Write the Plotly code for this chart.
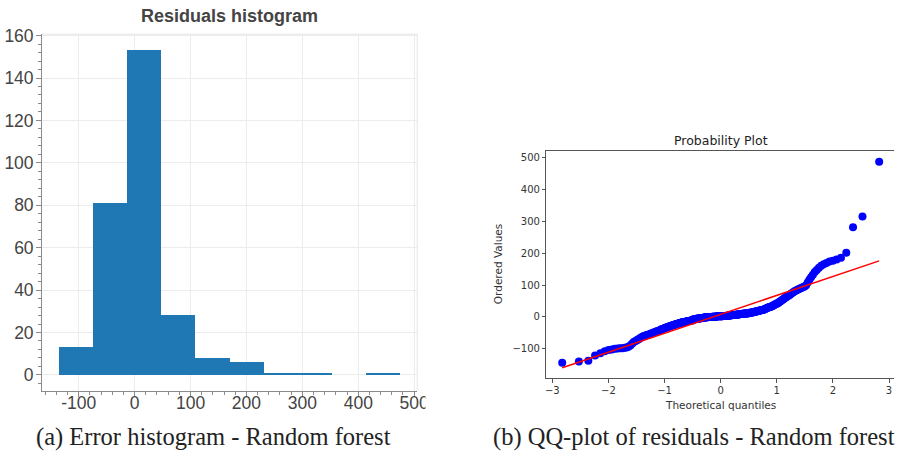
import numpy as np
import plotly.graph_objects as go
from statistics import NormalDist

# ---------------- Residual histogram (random forest) ----------------
bin_edges = [-135, -74, -13, 48, 109, 170, 231, 292, 353, 414, 475]
bin_counts = [13, 81, 153, 28, 8, 6, 1, 1, 0, 1]
hist_x_ticks = [-100, 0, 100, 200, 300, 400, 500]
hist_x_labels = ["-100", "0", "100", "200", "300", "400", "500"]
hist_y_ticks = [0, 20, 40, 60, 80, 100, 120, 140, 160]
hist_y_labels = ["0", "20", "40", "60", "80", "100", "120", "140", "160"]

# ---------------- Ordered residuals for the probability plot ----------------
ordered_residuals = [
    -144, -140, -138, -121, -114, -108, -104, -102, -100, -99,
    -98, -98, -97, -96, -94, -90, -84, -79, -76, -73,
    -71, -68, -65, -62, -61, -59, -58, -57, -56, -55, -53,
    -52, -51, -50, -48, -47, -46, -45, -44, -43, -42, -40, -39, -38, -37, -36, -35,
    -34, -33, -32, -31, -31, -30, -29, -28, -28, -27, -26, -25, -25, -24, -23, -22,
    -22, -21, -21, -20,
    -19, -19, -18, -18, -17, -17, -16, -16, -16, -15, -15, -14, -14, -14, -13, -13,
    -13, -12, -12, -12, -11, -11, -11,
    -8, -8, -8, -7, -7, -7, -6, -6, -6, -6, -5, -5, -5, -4, -4, -4, -4, -3, -3, -3,
    -3, -2, -2, -2, -2, -1, -1, -1,
    -1, -1, 0, 0, 0, 0, 0, 0, 0, 0, 1, 1, 1, 1, 1, 1, 1, 1, 1, 2, 2, 2, 2, 2, 2, 2,
    2, 2, 2,
    2, 2, 2, 3, 3, 3, 3, 3, 3, 3, 4, 4, 4, 4, 4, 4, 4, 5, 5, 5, 5, 5, 5, 6, 6, 6, 6,
    6, 6,
    7, 7, 7, 7, 8, 8, 8, 8, 9, 9, 9, 9, 9, 10, 10, 10, 10, 10, 11, 11, 11, 11, 11,
    12, 12, 12, 12,
    13, 13, 13, 14, 14, 14, 15, 15, 16, 16, 16, 17, 17, 18, 18, 19, 19, 20, 20, 21,
    21, 22, 22, 23,
    23, 24, 25, 26, 27, 28, 29, 30, 31, 31, 32, 33, 34, 35, 36, 38, 39, 40, 42,
    42, 44, 46, 48, 50, 52, 54, 56, 58, 60, 62, 64, 66, 68, 70, 73,
    75, 78, 80, 82, 84, 86, 88, 90, 92, 94, 96,
    100, 108, 117, 125, 133, 141, 148, 155, 161, 166, 170, 174, 177, 181, 186, 202,
    282, 316, 488,
]
qq_x_ticks = [-3, -2, -1, 0, 1, 2, 3]
qq_x_labels = ["\u22123", "\u22122", "\u22121", "0", "1", "2", "3"]
qq_y_ticks = [-100, 0, 100, 200, 300, 400, 500]
qq_y_labels = ["\u2212100", "0", "100", "200", "300", "400", "500"]

# Filliben order-statistic medians -> theoretical normal quantiles
osr = np.array(sorted(ordered_residuals), dtype=float)
n = len(osr)
med = np.array([(i - 0.3175) / (n + 0.365) for i in range(1, n + 1)])
med[-1] = 0.5 ** (1.0 / n)
med[0] = 1.0 - med[-1]
osm = np.array([NormalDist().inv_cdf(p) for p in med])
slope, intercept = np.polyfit(osm, osr, 1)
fit_line = slope * osm + intercept

W, H = 906, 455


def fx(px):
    return px / W


def fy(py):
    return 1 - py / H


fig = go.Figure()

# histogram bars
edges = np.array(bin_edges, dtype=float)
centers = (edges[:-1] + edges[1:]) / 2
widths = np.diff(edges)
fig.add_trace(go.Bar(
    x=centers, y=bin_counts, width=widths,
    marker=dict(color="#1f77b4", line=dict(width=0)),
    xaxis="x", yaxis="y", showlegend=False,
))

# QQ plot: ordered values and least-squares line
fig.add_trace(go.Scatter(
    x=osm, y=osr, mode="markers",
    marker=dict(color="#0000ff", size=8, line=dict(width=0)),
    xaxis="x2", yaxis="y2", showlegend=False,
))
fig.add_trace(go.Scatter(
    x=osm, y=fit_line, mode="lines",
    line=dict(color="#ff0000", width=1.5),
    xaxis="x2", yaxis="y2", showlegend=False,
))

# histogram axes ranges with 10% padding
span = edges[-1] - edges[0]
hx_range = [edges[0] - span * 0.05, edges[-1] + span * 0.05]
cmax = max(bin_counts)
hy_range = [-cmax * 0.05, cmax * 1.05]

# QQ axes ranges (5% margins)
lo = min(osr.min(), fit_line.min())
hi = max(osr.max(), fit_line.max())
qy_range = [lo - 0.05 * (hi - lo), hi + 0.05 * (hi - lo)]
xm = osm.max() - osm.min()
qx_range = [osm.min() - 0.05 * xm, osm.max() + 0.05 * xm - 0.018]

hist_axis_color = "#8a8a8a"
hist_font = dict(family="Liberation Sans, Arial, sans-serif", size=17.5, color="#444444")
qq_axis_color = "#555555"
qq_font = dict(family="DejaVu Sans, sans-serif", size=10, color="#333333")

fig.update_layout(
    width=W, height=H,
    margin=dict(l=0, r=0, t=0, b=0),
    paper_bgcolor="white", plot_bgcolor="white",
    bargap=0,
    xaxis=dict(
        domain=[fx(41.7), fx(422.3)], range=hx_range, anchor="y",
        tickmode="array", tickvals=hist_x_ticks, ticktext=hist_x_labels,
        ticks="outside", ticklen=5, tickcolor=hist_axis_color,
        ticklabelstandoff=-9,
        showline=True, linecolor=hist_axis_color, linewidth=1,
        showgrid=True, gridcolor="#ececec", gridwidth=1, zeroline=False,
        minor=dict(tickmode="linear", tick0=0, dtick=20, ticks="outside",
                   ticklen=3, tickcolor=hist_axis_color, showgrid=False),
        tickfont=hist_font,
    ),
    yaxis=dict(
        domain=[fy(390), fy(26.7)], range=hy_range, anchor="x",
        tickmode="array", tickvals=hist_y_ticks, ticktext=hist_y_labels,
        ticks="outside", ticklen=5, tickcolor=hist_axis_color,
        ticklabelstandoff=-1,
        showline=True, linecolor=hist_axis_color, linewidth=1,
        showgrid=True, gridcolor="#ececec", gridwidth=1, zeroline=False,
        minor=dict(tickmode="linear", tick0=0, dtick=4, ticks="outside",
                   ticklen=3, tickcolor=hist_axis_color, showgrid=False),
        tickfont=hist_font,
    ),
    xaxis2=dict(
        domain=[fx(553.3), 1.0], range=qx_range, anchor="y2",
        tickmode="array", tickvals=qq_x_ticks, ticktext=qq_x_labels,
        ticks="outside", ticklen=3.5, tickcolor=qq_axis_color,
        ticklabelstandoff=-1,
        showline=True, linecolor=qq_axis_color, linewidth=1, mirror=True,
        showgrid=False, zeroline=False, tickfont=qq_font,
    ),
    yaxis2=dict(
        domain=[fy(376.7), fy(146)], range=qy_range, anchor="x2",
        tickmode="array", tickvals=qq_y_ticks, ticktext=qq_y_labels,
        ticks="outside", ticklen=3.5, tickcolor=qq_axis_color,
        ticklabelstandoff=0,
        showline=True, linecolor=qq_axis_color, linewidth=1,
        showgrid=False, zeroline=False, tickfont=qq_font,
    ),
    shapes=[
        # light outline of the histogram frame (top and right)
        dict(type="line", xref="paper", yref="paper",
             x0=fx(41.7), x1=fx(422.3), y0=fy(26.7), y1=fy(26.7),
             line=dict(color="#e6e6e6", width=1), layer="below"),
        dict(type="line", xref="paper", yref="paper",
             x0=fx(422.3), x1=fx(422.3), y0=fy(390), y1=fy(26.7),
             line=dict(color="#e6e6e6", width=1), layer="below"),
    ],
    annotations=[
        # the histogram panel ends at x=430: blank strip to its right
        dict(text=" ", xref="paper", yref="paper", x=fx(430), y=fy(404),
             xanchor="left", yanchor="middle", showarrow=False,
             width=40, height=26, bgcolor="white", borderpad=0),
        dict(text="<b>Residuals histogram</b>", xref="paper", yref="paper",
             x=fx(232), y=fy(8), xanchor="center", yanchor="middle", showarrow=False,
             font=dict(family="Liberation Sans, Arial, sans-serif", size=18, color="#444444")),
        dict(text="Probability Plot", xref="paper", yref="paper",
             x=fx(730), y=fy(135), xanchor="center", yanchor="middle", showarrow=False,
             font=dict(family="DejaVu Sans, sans-serif", size=12.5, color="#222222")),
        dict(text="Ordered Values", xref="paper", yref="paper", textangle=-90,
             x=fx(505), y=fy(261), xanchor="center", yanchor="middle", showarrow=False,
             font=dict(family="DejaVu Sans, sans-serif", size=10.5, color="#333333")),
        dict(text="Theoretical quantiles", xref="paper", yref="paper",
             x=fx(730), y=fy(404), xanchor="center", yanchor="middle", showarrow=False,
             font=dict(family="DejaVu Sans, sans-serif", size=10.5, color="#333333")),
        dict(text="(a) Error histogram - Random forest", xref="paper", yref="paper",
             x=fx(33), y=fy(437), xanchor="left", yanchor="middle", showarrow=False,
             font=dict(family="Liberation Serif, serif", size=24.5, color="#222222")),
        dict(text="(b) QQ-plot of residuals - Random forest", xref="paper", yref="paper",
             x=fx(497), y=fy(437), xanchor="left", yanchor="middle", showarrow=False,
             font=dict(family="Liberation Serif, serif", size=24.5, color="#222222")),
    ],
)

fig.write_html("out.html")
